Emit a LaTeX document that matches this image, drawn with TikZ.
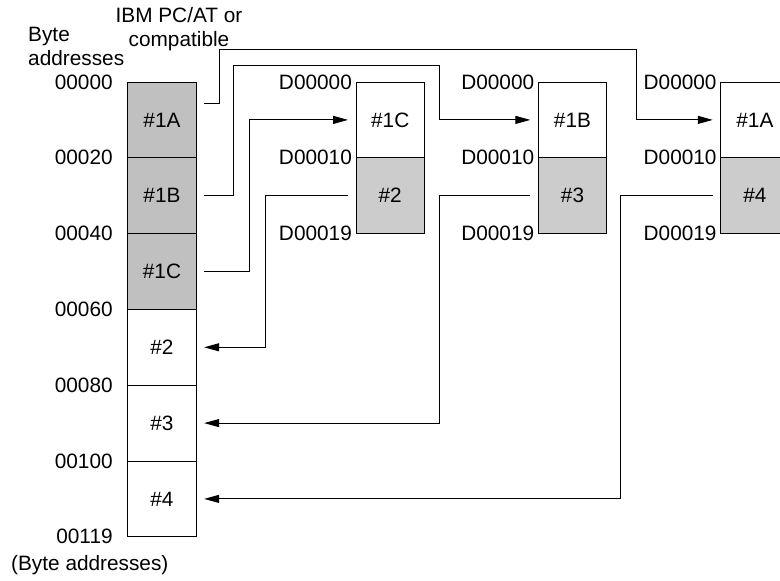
\documentclass[tikz,border=0pt]{standalone}
\usepackage{fontspec}
\setmainfont{Liberation Sans}
\usetikzlibrary{positioning,arrows.meta}
\definecolor{darkcell}{HTML}{C0C0C0}
\definecolor{lightcell}{HTML}{CCCCCC}
\tikzset{
  cell/.style={draw, line width=1pt, minimum width=68.3pt, minimum height=75.8pt, inner sep=0pt, outer sep=0pt},
  addr/.style={inner sep=0pt},
  link/.style={line width=1pt, shorten <=8pt, shorten >=8pt, -{Triangle[length=15pt,width=8pt]}}
}
\begin{document}
\begin{tikzpicture}[x=1pt,y=-1pt,font=\fontsize{20.8}{23.5}\selectfont]
\clip (0,0) rectangle (780,581);
% PC memory
\node[cell, fill=darkcell] (L1A) at (162,119.9) {\#1A};
\node[cell, fill=darkcell, below=0pt of L1A] (L1B) {\#1B};
\node[cell, fill=darkcell, below=0pt of L1B] (L1C) {\#1C};
\node[cell, below=0pt of L1C] (L2) {\#2};
\node[cell, below=0pt of L2] (L3) {\#3};
\node[cell, below=0pt of L3] (L4) {\#4};
\node[addr, left=15pt of L1A.north west] (a000) {00000};
\node[addr, left=15pt of L1B.north west] (a020) {00020};
\node[addr, left=15pt of L1C.north west] (a040) {00040};
\node[addr, left=15pt of L2.north west] (a060) {00060};
\node[addr, left=15pt of L3.north west] (a080) {00080};
\node[addr, left=15pt of L4.north west] (a100) {00100};
\node[addr, left=15pt of L4.south west] (a119) {00119};
\node[addr, align=left, anchor=west] (bytehead) at (28,46.5) {Byte\\addresses};
\node[addr, align=center] (pchead) at (179,29) {IBM PC/AT or\\compatible};
\node[addr, anchor=west] (bytefoot) at (11,565) {(Byte addresses)};
% unit memories
\node[cell] (B1a) at (390.2,119.9) {\#1C};
\node[cell, fill=lightcell, below=0pt of B1a] (B1b) {\#2};
\node[cell] (B2a) at (572.5,119.9) {\#1B};
\node[cell, fill=lightcell, below=0pt of B2a] (B2b) {\#3};
\node[cell] (B3a) at (754.9,119.9) {\#1A};
\node[cell, fill=lightcell, below=0pt of B3a] (B3b) {\#4};
\node[addr, left=4pt of B1a.north west] (d1a) {D00000};
\node[addr, left=4pt of B1b.north west] (d1b) {D00010};
\node[addr, left=4pt of B1b.south west] (d1c) {D00019};
\node[addr, left=4pt of B2a.north west] (d2a) {D00000};
\node[addr, left=4pt of B2b.north west] (d2b) {D00010};
\node[addr, left=4pt of B2b.south west] (d2c) {D00019};
\node[addr, left=4pt of B3a.north west] (d3a) {D00000};
\node[addr, left=4pt of B3b.north west] (d3b) {D00010};
\node[addr, left=4pt of B3b.south west] (d3c) {D00019};
% transfers
\draw[link] ([yshift=16pt]L1A.east) -- ++(23,0) |- (636.7,49) |- (B3a.west);
\draw[link] (L1B.east) -- ++(37,0) |- (439,65.7) |- (B2a.west);
\draw[link] (L1C.east) -- ++(53,0) |- (B1a.west);
\draw[link] (B1b.west) -- ++(-91,0) |- (L2.east);
\draw[link] (B2b.west) -- ++(-99.3,0) |- (L3.east);
\draw[link] (B3b.west) -- ++(-100,0) |- (L4.east);
\end{tikzpicture}
\end{document}
